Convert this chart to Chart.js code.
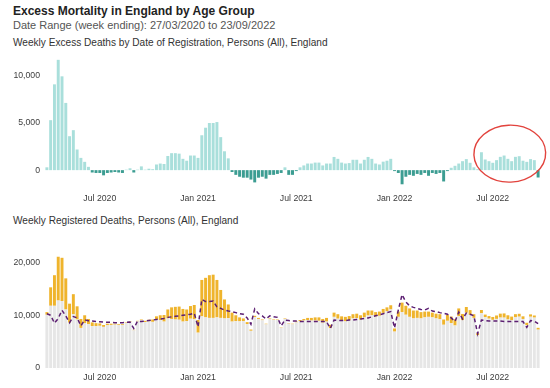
<!DOCTYPE html>
<html>
<head>
<meta charset="utf-8">
<script src="https://cdn.jsdelivr.net/npm/chart.js@4.4.0/dist/chart.umd.min.js"></script>
<style>
  html, body { margin: 0; padding: 0; background: #fff; overflow: hidden; }
  body { width: 550px; height: 388px; position: relative; font-family: "Liberation Sans", Arial, sans-serif; }
  .txt { position: absolute; left: 13px; white-space: nowrap; line-height: 1; }
  #mainTitle { top: 5px; font-size: 12px; font-weight: bold; color: #222; }
  #dateRange { top: 20.2px; font-size: 11px; color: #555; }
  #excessTitle { top: 37.9px; font-size: 10.1px; color: #333; }
  #deathsTitle { top: 216.4px; font-size: 10.1px; color: #333; }
  canvas { position: absolute; left: 0; }
</style>
</head>
<body>
<div class="txt" id="mainTitle">Excess Mortality in England by Age Group</div>
<div class="txt" id="dateRange">Date Range (week ending): 27/03/2020 to 23/09/2022</div>
<div class="txt" id="excessTitle">Weekly Excess Deaths by Date of Registration, Persons (All), England</div>
<div class="txt" id="deathsTitle">Weekly Registered Deaths, Persons (All), England</div>
<canvas id="excessChart" width="550" height="170" style="top:40px"></canvas>
<canvas id="deathsChart" width="550" height="159" style="top:230px"></canvas>
<script>
const firstWeekEnding = "2020-03-27";

// x axis labels, placed on the first week ending in that month
const tickLabels = ["Jul 2020", "Jan 2021", "Jul 2021", "Jan 2022", "Jul 2022"];
const tickWeeks = [14, 40, 66, 92, 118];

const excessTicks = [0, 5000, 10000];
const deathsTicks = [0, 10000, 20000];

// weekly excess deaths (top chart)
const excessDeaths = [
  300, 5300, 9100, 11700, 9950, 7130, 3600, 4240, 2190, 1300,
  880, 350, -250, -300, -300, -550, -300, -250, -200, -250,
  -300, 50, 200, -250, 50, 400, 50, 150, 100, 600,
  700, 650, 1500, 1800, 1800, 1750, 1200, 1000, 1550, 1550,
  1300, 3700, 4500, 5000, 5000, 5100, 3500, 2000, 1250, -200,
  -500, -700, -800, -800, -1000, -1300, -800, -700, -900, -500,
  -500, -400, -300, 300, -500, -500, -100, 300, 500, 700,
  700, 800, 800, 500, 700, 700, 1400, 1200, 800, 700,
  750, 1100, 1100, 700, 1100, 1400, 1200, 700, 600, 900,
  1000, 1200, -100, -300, -1500, -700, -500, -600, -400, -500,
  -300, -600, -300, -400, -300, -1200, -100, 250, 460, 700,
  950, 1170, 780, 300, 100, 1900, 1130, 950, 780, 1060,
  1410, 1550, 1200, 950, 1410, 1480, 1000, 880, 1170, 1060,
  -780
];

// weekly registered deaths, all causes (top of the gold bars)
const registeredDeaths = [
  10600, 15300, 17600, 21100, 20900, 17000, 12200, 14000, 11700, 9300,
  10000, 9300, 8650, 8500, 8450, 8150, 8400, 8400, 8400, 8350,
  8300, 8700, 8900, 7250, 8950, 9200, 8950, 9150, 9200, 9800,
  10000, 10050, 11100, 11500, 11600, 11650, 11200, 11100, 11750, 11950,
  9100, 16700, 17100, 17600, 17700, 16700, 14800, 13000, 12050, 10500,
  10000, 9600, 9400, 8700, 7300, 9900, 9500, 9200, 8400, 9400,
  9200, 9200, 7700, 9400, 8500, 8400, 8800, 9100, 9300, 9500,
  9500, 9600, 9600, 9300, 9500, 8200, 10500, 10200, 9800, 9700,
  9850, 10200, 10300, 10000, 10500, 10900, 10900, 10600, 10700, 11200,
  11500, 11900, 7500, 10700, 12400, 11800, 11300, 10900, 10900, 10600,
  10700, 10700, 10500, 10300, 10200, 9200, 10100, 9750, 9260, 11300,
  10250, 11570, 10980, 10200, 6600, 11000, 10130, 9850, 9680, 9960,
  10310, 10350, 10000, 9750, 10210, 10280, 9800, 8580, 10170, 9960,
  7620
];

// deaths not involving COVID-19 (grey bars)
const nonCovidDeaths = [
  10100, 11800, 11800, 12800, 12700, 11100, 8600, 10200, 9200, 7600,
  8500, 8300, 7950, 7950, 8000, 7800, 8100, 8170, 8220, 8180,
  8150, 8580, 8790, 7150, 8830, 9030, 8720, 8850, 8750, 9150,
  9100, 8800, 9400, 9300, 9200, 9150, 8800, 8900, 9350, 9250,
  6700, 9800, 9600, 9500, 9500, 9600, 9500, 9400, 9450, 8800,
  8900, 8850, 8900, 8350, 7050, 9650, 9300, 9050, 8280, 9290,
  9100, 9110, 7620, 9300, 8400, 8280, 8650, 8900, 9000, 9100,
  9000, 9000, 8950, 8600, 8800, 7550, 9700, 9350, 8950, 8850,
  9050, 9400, 9450, 9150, 9600, 9950, 10000, 9750, 9900, 10450,
  10750, 11100, 6900, 9700, 10600, 10100, 9700, 9400, 9500, 9400,
  9600, 9700, 9600, 9400, 9250, 8200, 8950, 8500, 8060, 9800,
  9050, 10470, 10080, 9500, 6200, 10400, 9630, 9350, 9130, 9310,
  9560, 9550, 9200, 9050, 9610, 9730, 9300, 8130, 9720, 9560,
  7270
];

// expected deaths (dashed line)
const expectedDeaths = [
  10300, 10000, 8500, 9400, 10950, 9870, 8600, 9760, 9510, 8000,
  9120, 8950, 8900, 8800, 8750, 8700, 8700, 8650, 8600, 8600,
  8600, 8650, 8700, 7500, 8900, 8800, 8900, 9000, 9100, 9200,
  9300, 9400, 9600, 9700, 9800, 9900, 10000, 10100, 10200, 10400,
  7800, 13000, 12600, 12600, 12700, 11600, 11300, 11000, 10800, 10700,
  10500, 10300, 10200, 9500, 8300, 11200, 10300, 9900, 9300, 9900,
  9700, 9600, 8000, 9100, 9000, 8900, 8900, 8800, 8800, 8800,
  8800, 8800, 8800, 8800, 8800, 7500, 9100, 9000, 9000, 9000,
  9100, 9100, 9200, 9300, 9400, 9500, 9700, 9900, 10100, 10300,
  10500, 10700, 7600, 11000, 13900, 12500, 11800, 11500, 11300, 11100,
  11000, 11300, 10800, 10700, 10500, 10400, 10200, 9500, 8800, 10600,
  9300, 10400, 10200, 9900, 6500, 9100, 9000, 8900, 8900, 8900,
  8900, 8800, 8800, 8800, 8800, 8800, 8800, 7700, 9000, 8900,
  8400
];

// hand drawn ring around the summer 2022 weeks (weeks, deaths)
const circleWeeks = [113, 132];
const circleValues = [-1270, 4770];

const POS_COLOR = "#a9dfdb";
const NEG_COLOR = "#3c9d92";
const GREY_COLOR = "#e6e6e6";
const GOLD_COLOR = "#efb42c";
const LINE_COLOR = "#5c1f72";
const TICK_COLOR = "#3c3c3c";
const TICK_FONT = { family: "'Liberation Sans', Arial, sans-serif", size: 8.7 };

function buildWeekLabels(count) {
  const labels = [];
  const start = new Date(firstWeekEnding + "T00:00:00Z");
  for (let i = 0; i < count; i++) {
    const d = new Date(start.getTime() + i * 7 * 86400000);
    labels.push(d.toISOString().slice(0, 10));
  }
  return labels;
}

const weekLabels = buildWeekLabels(excessDeaths.length);

// gold part runs from the non-covid total up to all registered deaths
const covidRanges = registeredDeaths.map((total, i) => [nonCovidDeaths[i], total]);

function formatNumber(value) {
  return Number(value).toLocaleString("en-US");
}

function makeXAxis() {
  return {
    grid: { display: false, drawTicks: false },
    border: { display: false },
    afterBuildTicks: axis => {
      axis.ticks = tickWeeks.map(week => ({ value: week }));
    },
    afterFit: axis => {
      axis.height = 21;
    },
    ticks: {
      autoSkip: false,
      maxRotation: 0,
      padding: 4,
      color: TICK_COLOR,
      font: TICK_FONT,
      callback: value => tickLabels[tickWeeks.indexOf(value)]
    }
  };
}

function makeYAxis(min, max, tickValues) {
  return {
    min,
    max,
    grid: { display: false, drawTicks: false },
    border: { display: false },
    afterBuildTicks: axis => {
      axis.ticks = tickValues.map(v => ({ value: v }));
    },
    afterFit: axis => {
      axis.width = 45;
    },
    ticks: {
      padding: 5,
      color: TICK_COLOR,
      font: TICK_FONT,
      callback: value => formatNumber(value)
    }
  };
}

const baseOptions = {
  responsive: false,
  animation: false,
  devicePixelRatio: 1,
  plugins: {
    legend: { display: false },
    tooltip: { enabled: false }
  }
};

const redCirclePlugin = {
  id: "redCircle",
  afterDraw(chart) {
    const { ctx, scales } = chart;
    const left = scales.x.getPixelForValue(circleWeeks[0]);
    const right = scales.x.getPixelForValue(circleWeeks[1]);
    const top = scales.y.getPixelForValue(circleValues[1]);
    const bottom = scales.y.getPixelForValue(circleValues[0]);

    ctx.save();
    ctx.strokeStyle = "#e2433d";
    ctx.lineWidth = 1.4;
    ctx.beginPath();
    ctx.ellipse((left + right) / 2, (top + bottom) / 2, (right - left) / 2, (bottom - top) / 2, -0.04, 0, Math.PI * 2);
    ctx.stroke();
    ctx.restore();
  }
};

new Chart(document.querySelector("#excessChart"), {
  type: "bar",
  data: {
    labels: weekLabels,
    datasets: [
      {
        data: excessDeaths,
        backgroundColor: excessDeaths.map(v => (v < 0 ? NEG_COLOR : POS_COLOR)),
        barPercentage: 0.78,
        categoryPercentage: 1
      }
    ]
  },
  options: {
    ...baseOptions,
    layout: { padding: { top: 17, right: 10, left: 0, bottom: 0 } },
    scales: {
      x: makeXAxis(),
      y: makeYAxis(-2000, 12000, excessTicks)
    }
  },
  plugins: [redCirclePlugin]
});

new Chart(document.querySelector("#deathsChart"), {
  type: "bar",
  data: {
    labels: weekLabels,
    datasets: [
      {
        type: "line",
        data: expectedDeaths,
        borderColor: LINE_COLOR,
        borderWidth: 1.5,
        borderDash: [4, 3],
        pointRadius: 0,
        tension: 0,
        order: 0
      },
      {
        data: nonCovidDeaths,
        backgroundColor: GREY_COLOR,
        barPercentage: 0.78,
        categoryPercentage: 1,
        grouped: false,
        order: 1
      },
      {
        data: covidRanges,
        backgroundColor: GOLD_COLOR,
        barPercentage: 0.78,
        categoryPercentage: 1,
        grouped: false,
        order: 2
      }
    ]
  },
  options: {
    ...baseOptions,
    layout: { padding: { top: 22, right: 10, left: 0, bottom: 0 } },
    scales: {
      x: makeXAxis(),
      y: makeYAxis(0, 22000, deathsTicks)
    }
  }
});
</script>
</body>
</html>
